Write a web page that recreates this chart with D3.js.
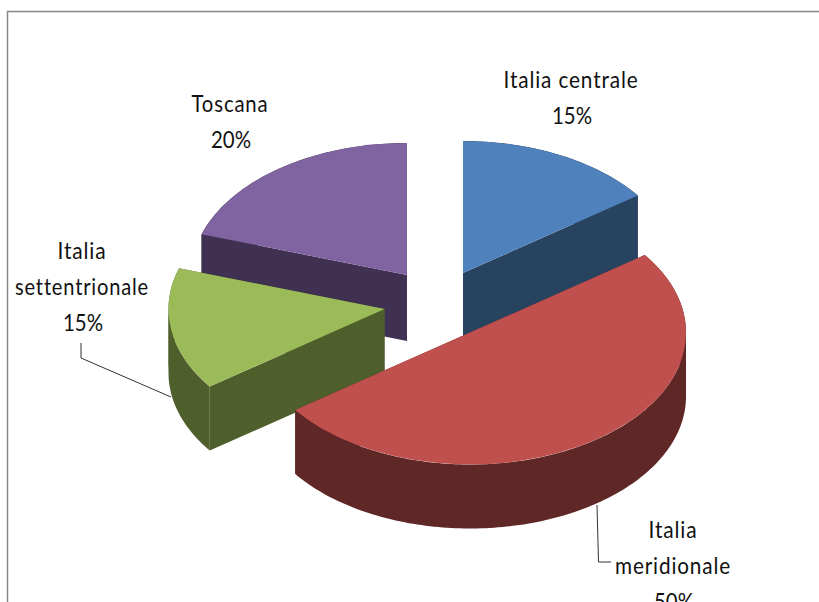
<!DOCTYPE html>
<html><head><meta charset="utf-8">
<script src="https://cdn.jsdelivr.net/npm/d3@7/dist/d3.min.js"></script>
<style>html,body{margin:0;padding:0;background:#fff;overflow:hidden}svg{display:block}
text{font-family:Lato,"Liberation Sans",sans-serif;font-size:24px;fill:#111;text-anchor:middle}</style>
</head><body><svg id="c" width="819" height="602"></svg>
<script>
const categories = ["Italia centrale","Italia meridionale","Italia settentrionale","Toscana"];
const values = [15,50,15,20];
const topColors = ["#4F81BD","#C0504D","#9BBB59","#8064A2"];
const sideColors = ["#284360","#5F2827","#4F5F2C","#403152"];
const apexes = [[463,273],[470,332.5],[384.5,309],[407,275]];
const depths = [64,64,64,66];
const labelLines = [["Italia centrale"],["Italia","meridionale"],["Italia","settentrionale"],["Toscana"]];
const labelWidths = [[135],[49,116],[49,134],[77]];
const labelPos = [[571,88],[673,538],[82,259],[230,112]];
const percentLabels = ["15%","50%","15%","20%"];
const RX = 216, RY = 132;

const svg = d3.select("#c");
svg.append("path").attr("d","M7.5,602V11.5H819").attr("fill","none").attr("stroke","#868686").attr("stroke-width",1.5);

const slices = d3.pie().sort(null).value(d=>d)(values);
const arcTop = d3.arc().innerRadius(0).outerRadius(RY);
const line = d3.line();
const drawOrder = [3,0,2,1];

// Split the rim where it turns back in x, so each band piece is a simple polygon
function monotoneRuns(rim){
  const runs = [];
  let run = [rim[0]], dir = 0;
  for (let k=1;k<rim.length;k++){
    const d = Math.sign(rim[k][0]-rim[k-1][0]);
    if (dir && d && d!==dir){ runs.push(run); run=[rim[k-1]]; }
    if (d) dir = d;
    run.push(rim[k]);
  }
  runs.push(run);
  return runs;
}

drawOrder.forEach(i=>{
  const s = slices[i], [ax,ay] = apexes[i], D = depths[i];
  const g = svg.append("g").attr("transform",`translate(${ax},${ay})`);
  const pt = a=>[RX*Math.sin(a),-RY*Math.cos(a)];
  const n = Math.ceil((s.endAngle-s.startAngle)/0.02);
  const rim = d3.range(n+1).map(k=>pt(s.startAngle+(s.endAngle-s.startAngle)*k/n));
  const down = p=>[p[0],p[1]+D];
  const first = rim[0], last = rim[n];
  const o = [0,0];
  const polys = [[o,first,down(first),down(o)],[o,last,down(last),down(o)]];
  monotoneRuns(rim).forEach(r=>polys.push([...r,...r.slice().reverse().map(down)]));
  polys.forEach(poly=>{
    g.append("path").attr("d",line(poly)+"Z").attr("fill",sideColors[i]);
  });
  g.append("path").attr("transform",`scale(${RX/RY},1)`)
    .attr("d",arcTop(s)).attr("fill",topColors[i]);
});

// Leader lines
svg.append("path").attr("d",line([[81,343],[81,358],[171,397]])).attr("fill","none").attr("stroke","#333").attr("stroke-width",1);
svg.append("path").attr("d",line([[597,505],[598.5,562],[611,562]])).attr("fill","none").attr("stroke","#333").attr("stroke-width",1);

// Labels
categories.forEach((c,i)=>{
  const [x,y] = labelPos[i];
  const lines = [...labelLines[i],percentLabels[i]];
  lines.forEach((t,k)=>{
    const isPct = k===lines.length-1;
    svg.append("text").attr("x",x+(isPct?1:0)).attr("y",y+k*36)
      .attr("textLength",isPct?40:labelWidths[i][k])
      .attr("lengthAdjust","spacingAndGlyphs")
      .style("letter-spacing",isPct?"0px":"1px").text(t);
  });
});
</script></body></html>
